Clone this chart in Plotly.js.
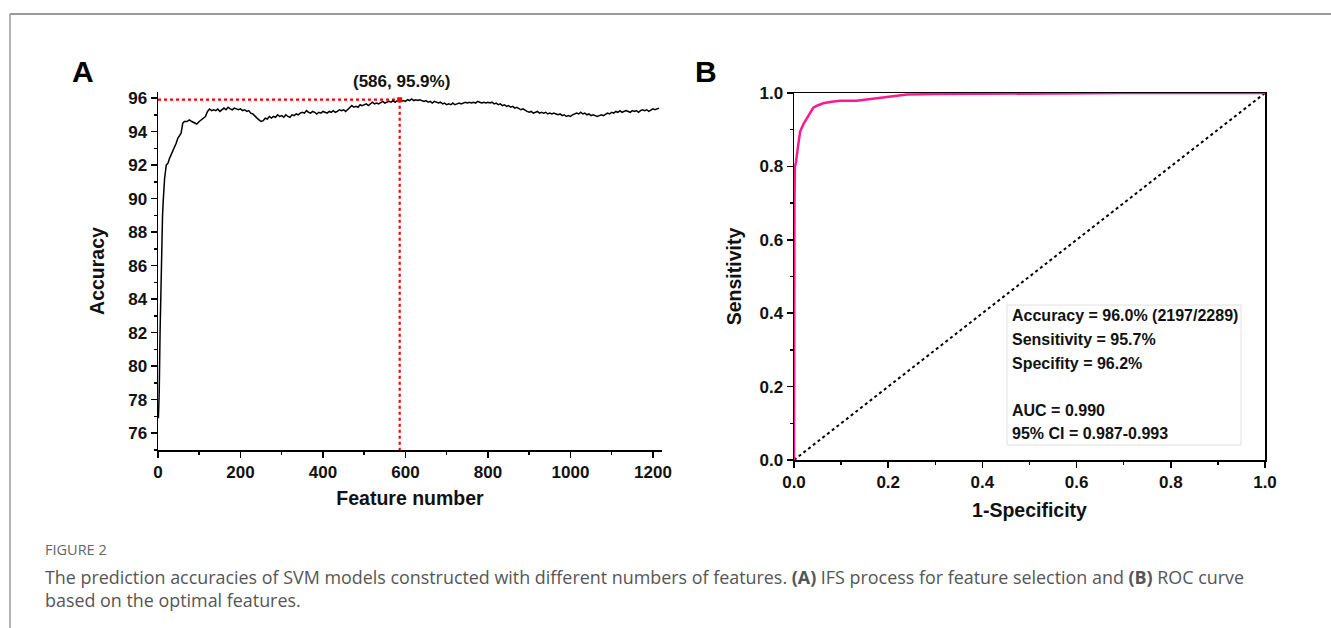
<!DOCTYPE html>
<html>
<head>
<meta charset="utf-8">
<script src="https://cdn.plot.ly/plotly-3.0.1.min.js"></script>
<style>html,body{margin:0;padding:0;background:#fff;}#chart{width:1331px;height:628px;}</style>
</head>
<body>
<div id="chart"></div>
<script>
// Panel A: IFS curve
const featureNumbers = [
  1,3,5,7,9,11,13,16,20,24,28,32,36,40,44,48,52,56,60,64,70,76,82,88,94,
  100,105,110,115,120,125,130,135,140,145,
  150,155,160,165,170,175,180,185,190,195,
  200,205,210,215,220,225,230,235,240,245,
  250,255,260,265,270,275,280,285,290,295,
  300,305,310,315,320,325,330,335,340,345,
  350,355,360,365,370,375,380,385,390,395,
  400,405,410,415,420,425,430,435,440,445,
  450,455,460,465,470,475,480,485,490,495,
  500,505,510,515,520,525,530,535,540,545,
  550,555,560,565,570,575,580,
  586,
  590,595,600,605,610,615,620,625,630,635,
  640,645,650,655,660,665,670,675,680,685,
  690,695,700,705,710,715,720,725,730,735,
  740,745,750,755,760,765,770,775,780,785,
  790,795,800,805,810,815,820,825,830,835,
  840,845,850,855,860,865,870,875,880,885,
  890,895,900,905,910,915,920,925,930,935,
  940,945,950,955,960,965,970,975,980,985,
  990,995,1000,1005,1010,1015,1020,1025,1030,1035,
  1040,1045,1050,1055,1060,1065,1070,1075,1080,1085,
  1090,1095,1100,1105,1110,1115,1120,1125,1130,1135,
  1140,1145,1150,1155,1160,1165,1170,1175,1180,1185,
  1190,1195,1200,1205,1210,1215
];
const accuracy = [
  76.9,78.5,82.0,85.0,86.5,89.0,90.0,91.2,92.0,92.1,92.4,92.6,92.9,93.1,93.3,93.6,93.8,93.9,94.5,94.6,94.6,94.7,94.6,94.5,94.45,
  94.6,94.7,94.75,94.9,95.2,95.35,95.25,95.3,95.25,95.35,
  95.2,95.3,95.4,95.3,95.45,95.35,95.3,95.4,95.35,95.3,
  95.35,95.25,95.3,95.2,95.25,95.1,95.05,94.9,94.8,94.7,
  94.6,94.65,94.8,94.75,94.9,94.8,94.9,94.85,95.0,94.9,
  94.95,94.85,95.0,94.9,94.85,95.0,94.95,95.05,95.0,95.1,
  95.15,95.1,95.25,95.15,95.1,95.2,95.15,95.05,95.15,95.1,
  95.2,95.15,95.1,95.2,95.15,95.25,95.15,95.2,95.3,95.25,
  95.3,95.2,95.3,95.4,95.55,95.45,95.5,95.45,95.6,95.55,
  95.6,95.65,95.55,95.65,95.75,95.65,95.7,95.65,95.75,95.8,
  95.7,95.75,95.8,95.75,95.85,95.75,95.85,
  95.9,
  95.8,95.85,95.8,95.9,95.85,95.95,95.85,95.9,95.85,95.9,
  95.85,95.8,95.85,95.75,95.8,95.7,95.8,95.75,95.7,95.75,
  95.65,95.7,95.6,95.65,95.6,95.7,95.6,95.65,95.7,95.65,
  95.7,95.75,95.7,95.75,95.7,95.75,95.7,95.8,95.75,95.7,
  95.75,95.7,95.75,95.7,95.75,95.65,95.7,95.6,95.65,95.55,
  95.6,95.5,95.55,95.45,95.5,95.4,95.45,95.35,95.3,95.35,
  95.25,95.2,95.15,95.2,95.1,95.15,95.2,95.1,95.15,95.1,
  95.15,95.05,95.1,95.05,95.1,95.05,95.0,95.05,94.95,95.0,
  94.9,94.95,94.9,95.0,95.05,95.1,95.05,95.15,95.05,95.1,
  95.0,95.05,94.95,95.0,94.95,94.9,94.95,95.0,94.95,95.05,
  95.1,95.05,95.15,95.1,95.2,95.15,95.25,95.15,95.2,95.25,
  95.2,95.15,95.25,95.2,95.25,95.15,95.25,95.3,95.25,95.3,
  95.2,95.3,95.35,95.3,95.35,95.4
];
const optimalN = 586;
const optimalAcc = 95.9;
const yMinA = 75;

// Panel B: ROC curve
const fpr = [0,0,0.001,0.002,0.004,0.008,0.013,0.02,0.027,0.035,0.041,0.05,0.062,0.08,0.098,0.133,0.168,0.204,0.24,0.3,0.4,0.5,0.7,1.0];
const tpr = [0,0.5,0.7,0.8,0.81,0.85,0.895,0.915,0.93,0.95,0.96,0.966,0.972,0.976,0.979,0.979,0.985,0.99,0.996,0.997,0.998,1.0,1.0,1.0];
const diagX = [0,1];
const diagY = [0,1];
const statLines = ["Accuracy = 96.0% (2197/2289)","Sensitivity = 95.7%","Specifity = 96.2%","","AUC = 0.990","95% CI = 0.987-0.993"];

const W = 1331, H = 628;
const px = v => v / W;
const py = v => 1 - v / H;
const F = "Liberation Sans, Arial, sans-serif";
const CF = "Open Sans, Noto Sans, sans-serif";
const tickFont = {family: F, size: 17, color: "#111", weight: "bold"};
const titleFont = {family: F, size: 19.5, color: "#111", weight: "bold"};

const traces = [
  {x: [0, optimalN], y: [optimalAcc, optimalAcc], mode: "lines", line: {color: "#ff0000", width: 2.2, dash: "dot"}, xaxis: "x", yaxis: "y", hoverinfo: "skip"},
  {x: [optimalN, optimalN], y: [optimalAcc, yMinA], mode: "lines", line: {color: "#ff0000", width: 2.2, dash: "dot"}, xaxis: "x", yaxis: "y", hoverinfo: "skip"},
  {x: featureNumbers, y: accuracy, mode: "lines", line: {color: "#000", width: 1.5}, xaxis: "x", yaxis: "y"},
  {x: [optimalN], y: [optimalAcc], mode: "markers", marker: {color: "#ff0000", size: 5, symbol: "square"}, xaxis: "x", yaxis: "y"},
  {x: diagX, y: diagY, mode: "lines", line: {color: "#000", width: 2, dash: "dot"}, xaxis: "x2", yaxis: "y2"},
  {x: fpr, y: tpr, mode: "lines", line: {color: "#ff1a8c", width: 2.5}, xaxis: "x2", yaxis: "y2"}
];

const axisCommon = {
  showgrid: false, zeroline: false, showline: true, linecolor: "#000", linewidth: 1.5,
  ticks: "outside", ticklen: 6, tickwidth: 1.5, tickcolor: "#000", tickfont: tickFont
};
const minorCommon = {ticks: "outside", ticklen: 3, tickwidth: 1.5, tickcolor: "#000"};

const annotations = [
  {text: "<b>A</b>", x: px(83), y: py(72), xref: "paper", yref: "paper", showarrow: false, font: {family: F, size: 30, color: "#000"}, xanchor: "center", yanchor: "middle"},
  {text: "<b>B</b>", x: px(706), y: py(72), xref: "paper", yref: "paper", showarrow: false, font: {family: F, size: 30, color: "#000"}, xanchor: "center", yanchor: "middle"},
  {text: "<b>(" + optimalN + ", " + optimalAcc.toFixed(1) + "%)</b>", x: px(401), y: py(82), xref: "paper", yref: "paper", showarrow: false, font: {family: F, size: 17, color: "#111"}, xanchor: "center", yanchor: "middle"},
  {text: "FIGURE 2", x: px(43), y: py(549), xref: "paper", yref: "paper", showarrow: false, font: {family: CF, size: 14.5, color: "#666"}, xanchor: "left", yanchor: "middle"},
  {text: "The prediction accuracies of SVM models constructed with different numbers of features. <b>(A)</b> IFS process for feature selection and <b>(B)</b> ROC curve", x: px(43), y: py(577), xref: "paper", yref: "paper", showarrow: false, font: {family: CF, size: 17.9, color: "#555"}, xanchor: "left", yanchor: "middle"},
  {text: "based on the optimal features.", x: px(43), y: py(600), xref: "paper", yref: "paper", showarrow: false, font: {family: CF, size: 17.9, color: "#555"}, xanchor: "left", yanchor: "middle"}
];
const statY = [315, 339, 363, 386, 410, 433];
statLines.forEach((t, i) => {
  if (t) annotations.push({text: "<b>" + t + "</b>", x: px(1010), y: py(statY[i]), xref: "paper", yref: "paper", showarrow: false, font: {family: F, size: 16, color: "#111"}, xanchor: "left", yanchor: "middle"});
});

const layout = {
  width: W, height: H, margin: {l: 0, r: 0, t: 0, b: 0},
  paper_bgcolor: "#fff", plot_bgcolor: "rgba(0,0,0,0)", showlegend: false,
  xaxis: Object.assign({}, axisCommon, {
    domain: [px(158), px(662)], range: [0, 1222], tickvals: [0,200,400,600,800,1000,1200],
    minor: Object.assign({tickvals: [100,300,500,700,900,1100]}, minorCommon),
    anchor: "y", title: {text: "Feature number", font: titleFont, standoff: 10}
  }),
  yaxis: Object.assign({}, axisCommon, {
    domain: [py(450), py(92)], range: [75, 96.36], tickvals: [76,78,80,82,84,86,88,90,92,94,96],
    minor: Object.assign({tickvals: [75,77,79,81,83,85,87,89,91,93,95]}, minorCommon),
    anchor: "x", title: {text: "Accuracy", font: titleFont, standoff: 18}
  }),
  xaxis2: Object.assign({}, axisCommon, {
    domain: [px(794), px(1265)], range: [0, 1], tickvals: [0,0.2,0.4,0.6,0.8,1.0], ticktext: ["0.0","0.2","0.4","0.6","0.8","1.0"],
    minor: Object.assign({tickvals: [0.1,0.3,0.5,0.7,0.9]}, minorCommon),
    mirror: true, anchor: "y2", title: {text: "1-Specificity", font: titleFont, standoff: 12}
  }),
  yaxis2: Object.assign({}, axisCommon, {
    domain: [py(460), py(93)], range: [0, 1], tickvals: [0,0.2,0.4,0.6,0.8,1.0], ticktext: ["0.0","0.2","0.4","0.6","0.8","1.0"],
    minor: Object.assign({tickvals: [0.1,0.3,0.5,0.7,0.9]}, minorCommon),
    mirror: true, anchor: "x2", title: {text: "Sensitivity", font: titleFont, standoff: 12}
  }),
  annotations: annotations,
  shapes: [
    {type: "line", xref: "paper", yref: "paper", x0: px(10), x1: 1, y0: py(14), y1: py(14), line: {color: "#999", width: 2}},
    {type: "line", xref: "paper", yref: "paper", x0: px(10), x1: px(10), y0: py(14), y1: 0, line: {color: "#999", width: 1.5}},
    {type: "rect", xref: "paper", yref: "paper", x0: px(1007), x1: px(1241), y0: py(305), y1: py(445), line: {color: "#e0e0e0", width: 1}}
  ]
};

Plotly.newPlot("chart", traces, layout, {displayModeBar: false, staticPlot: true});
</script>
</body>
</html>
